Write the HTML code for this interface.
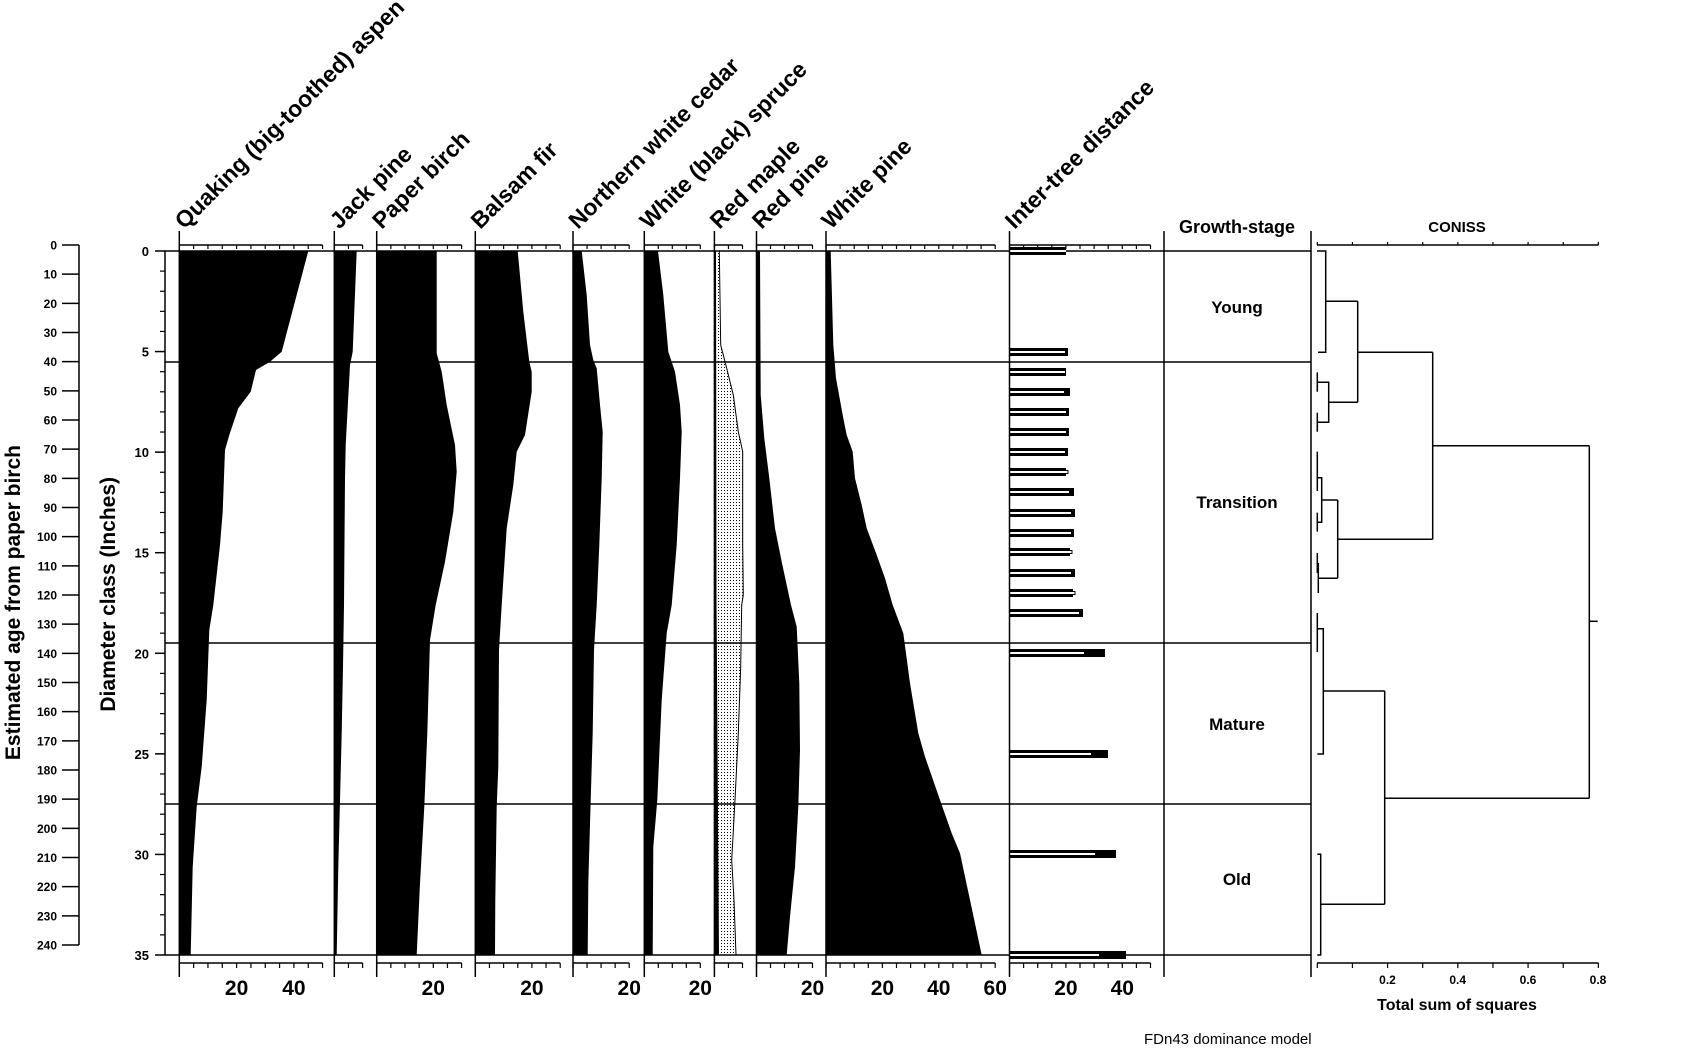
<!DOCTYPE html>
<html><head><meta charset="utf-8"><style>
html,body{margin:0;padding:0;background:#fff;}
svg{display:block;font-family:"Liberation Sans",Arial,sans-serif;}
</style></head><body>
<svg width="1681" height="1051" viewBox="0 0 1681 1051" xmlns="http://www.w3.org/2000/svg">
<defs>
<pattern id="dots" width="3" height="3" patternUnits="userSpaceOnUse">
<rect x="1" y="1" width="1" height="1" fill="#000"/>
</pattern>
</defs>
<rect width="1681" height="1051" fill="#fff"/>

<g stroke="#000" stroke-width="1.5">
<line x1="165" y1="251" x2="1311" y2="251"/>
<line x1="165" y1="362" x2="1311" y2="362"/>
<line x1="165" y1="643" x2="1311" y2="643"/>
<line x1="165" y1="804" x2="1311" y2="804"/>
<line x1="165" y1="955" x2="1311" y2="955"/>
</g>

<g fill="#000">
<polygon points="179.3,251 308.3,251 281.7,351.7 270,361.7 256,370 250.7,391.7 238.3,408.3 229.3,435 225,450 222.7,511.7 220,545 213.3,605 209.3,630 206.7,700 201.7,766.7 196.7,806.7 192.7,866.7 190.7,955 179.3,955"/>
<polygon points="334.3,251 356.7,251 352.7,351.7 350,365 345.7,445 345,478.3 344,605 343,666.7 341.7,733.3 340,800 338.3,866.7 336.7,955 334.3,955"/>
<polygon points="376.7,251 436.7,251 436.7,353.3 441.7,371.7 446.7,405 455,445 456.7,471.7 453.3,511.7 445,561.7 435.7,605 430,640 427.3,733.3 424.3,806.7 420,883.3 416.7,955 376.7,955"/>
<polygon points="475.3,251 517.7,251 523.3,311.7 529.3,361.7 531.7,371.7 531.7,391.7 525,435 516.7,451.7 513.3,485 506.7,528.3 501.7,605 499,650 498.3,766.7 496.7,806.7 495.3,900 495,955 475.3,955"/>
<polygon points="572.7,251 581.7,251 586.7,295 590,345 593.3,360 596.7,368.3 600,405 602.7,431.7 601.7,478.3 599.3,545 596.7,605 594,650 592.7,733.3 590.7,800 588.3,883.3 587.7,955 572.7,955"/>
<polygon points="644,251 658,251 663.3,295 668.3,351.7 675,371.7 680,405 681.7,431.7 680,478.3 676.7,545 671.7,605 666.7,633.3 661.7,700 657.3,800 653.3,846.7 652.7,955 644,955"/>
<polygon points="714.3,251 716,251 716.5,600 719,955 714.3,955"/>
<polygon points="756,251 760,251 760.7,395 764.3,438.3 769.3,478.3 775,528.3 781.7,561.7 791,605 796.7,626.7 799.3,683.3 800,750 798.3,806.7 795,866.7 790,916.7 786.7,955 756,955"/>
<polygon points="826,251 830.7,251 833.3,345 836,378.3 843.3,418.3 846.7,435 852.7,451.7 855,478.3 861.7,505 866.7,528.3 876.7,555 885,578.3 892.7,605 903.3,633.3 910,683.3 918.3,733.3 925,756.7 940,800 951.7,833.3 960,853.3 970,900 981.7,955 826,955"/>
</g>
<polygon points="716,251 719.3,251 720.7,345 726.7,368.3 733.3,395 738.3,431.7 742.7,451.7 742.7,545 743.3,595 741.7,605 740.7,666.7 738.3,733.3 735,800 731.7,860 734,900 736,955 719,955 716.5,600" fill="url(#dots)"/>
<polyline points="719.3,251 720.7,345 726.7,368.3 733.3,395 738.3,431.7 742.7,451.7 742.7,545 743.3,595 741.7,605 740.7,666.7 738.3,733.3 735,800 731.7,860 734,900 736,955" fill="none" stroke="#000" stroke-width="1"/>

<g id="bars"></g>
<g id="axes" stroke="#000" stroke-width="1.5" fill="none"></g>
<g id="labels" font-size="21" font-weight="bold" text-anchor="middle" fill="#000"></g>
<g id="titles" font-size="23" font-weight="bold" fill="#000"></g>

<g stroke="#000" stroke-width="1.5">
<line x1="1164" y1="231" x2="1164" y2="977"/>
<line x1="1311" y1="231" x2="1311" y2="977"/>
</g>
<g font-weight="bold" text-anchor="middle" fill="#000">
<text x="1237" y="233" font-size="18">Growth-stage</text>
<text x="1237" y="313" font-size="17">Young</text>
<text x="1237" y="508" font-size="17">Transition</text>
<text x="1237" y="730" font-size="17">Mature</text>
<text x="1237" y="885" font-size="17">Old</text>
<text x="1457" y="232" font-size="15">CONISS</text>
<text x="1457" y="1010" font-size="16">Total sum of squares</text>
</g>
<text x="1144" y="1044" font-size="15" fill="#000">FDn43 dominance model</text>

<g stroke="#000" stroke-width="1.5" fill="none">
<polyline points="1317,251 1325.7,251 1325.7,352.3 1318,352.3"/>
<line x1="1325.7" y1="301.3" x2="1357.7" y2="301.3"/>
<line x1="1317.3" y1="372.3" x2="1317.3" y2="391.7"/>
<line x1="1317.3" y1="412.7" x2="1317.3" y2="431.7"/>
<polyline points="1317.3,382.3 1328.7,382.3 1328.7,422.3 1317.3,422.3"/>
<line x1="1328.7" y1="402.3" x2="1357.7" y2="402.3"/>
<line x1="1357.7" y1="301.3" x2="1357.7" y2="402.3"/>
<line x1="1357.7" y1="352.3" x2="1432.7" y2="352.3"/>
<line x1="1317.3" y1="451.7" x2="1317.3" y2="491"/>
<line x1="1317.3" y1="512.7" x2="1317.3" y2="531.7"/>
<polyline points="1317.3,477.7 1321.7,477.7 1321.7,522.3 1317.3,522.3"/>
<line x1="1321.7" y1="500" x2="1337.7" y2="500"/>
<line x1="1317.3" y1="553" x2="1317.3" y2="573"/>
<line x1="1318.3" y1="563" x2="1318.3" y2="593"/>
<line x1="1318.3" y1="578.3" x2="1337.7" y2="578.3"/>
<line x1="1337.7" y1="500" x2="1337.7" y2="578.3"/>
<line x1="1337.7" y1="539.3" x2="1432.7" y2="539.3"/>
<line x1="1432.7" y1="352.3" x2="1432.7" y2="539.3"/>
<line x1="1432.7" y1="445.7" x2="1589.3" y2="445.7"/>
<line x1="1317.3" y1="613" x2="1317.3" y2="652"/>
<polyline points="1318,628.7 1323.3,628.7 1323.3,754 1317.3,754"/>
<line x1="1323.3" y1="691" x2="1384.7" y2="691"/>
<polyline points="1317.3,854.3 1320.7,854.3 1320.7,955 1317.3,955"/>
<line x1="1320.7" y1="904.3" x2="1384.7" y2="904.3"/>
<line x1="1384.7" y1="691" x2="1384.7" y2="904.3"/>
<line x1="1384.7" y1="798.3" x2="1589.3" y2="798.3"/>
<line x1="1589.3" y1="445.7" x2="1589.3" y2="798.3"/>
<line x1="1589.3" y1="621.3" x2="1597.7" y2="621.3"/>
<line x1="1317" y1="245" x2="1598.5" y2="245"/>
<line x1="1317" y1="963" x2="1598.5" y2="963"/>
</g>
<g id="coniss" stroke="#000" stroke-width="1.5"></g>
<g font-size="12" font-weight="bold" text-anchor="middle" fill="#000">
<text x="1387.5" y="984">0.2</text>
<text x="1457.7" y="984">0.4</text>
<text x="1528" y="984">0.6</text>
<text x="1598" y="984">0.8</text>
</g>

<g stroke="#000" stroke-width="1.5" id="leftaxes">
<line x1="79" y1="245" x2="79" y2="945"/>
<line x1="165" y1="251" x2="165" y2="955"/>
</g>
<g id="agelab" font-size="12" font-weight="bold" text-anchor="end" fill="#000"></g>
<g id="diamlab" font-size="13" font-weight="bold" text-anchor="end" fill="#000"></g>
<text transform="translate(20,445) rotate(-90)" text-anchor="end" font-size="21" font-weight="bold" fill="#000">Estimated age from paper birch</text>
<text transform="translate(115,477) rotate(-90)" text-anchor="end" font-size="21" font-weight="bold" fill="#000">Diameter class (Inches)</text>

<script>
(function(){
var NS="http://www.w3.org/2000/svg";
function el(parent,tag,attrs,txt){var e=document.createElementNS(NS,tag);for(var k in attrs)e.setAttribute(k,attrs[k]);if(txt!=null)e.textContent=txt;parent.appendChild(e);return e;}
var axes=document.getElementById('axes'),labels=document.getElementById('labels'),titles=document.getElementById('titles');
var panels=[
 [179.3,2.865,50,[20,40],'Quaking (big-toothed) aspen'],
 [334.3,2.83,10,[],'Jack pine'],
 [376.7,2.83,30,[20],'Paper birch'],
 [475.3,2.83,30,[20],'Balsam fir'],
 [573,2.81,20,[20],'Northern white cedar'],
 [644.3,2.8,20,[20],'White (black) spruce'],
 [714.4,2.81,10,[],'Red maple'],
 [756.5,2.8,20,[20],'Red pine'],
 [826,2.82,60,[20,40,60],'White pine'],
 [1009.5,2.82,50,[20,40],'Inter-tree distance']
];
panels.forEach(function(p){
 var L=p[0],s=p[1],m=p[2],R=L+s*m;
 el(axes,'line',{x1:L,y1:231,x2:L,y2:977});
 el(axes,'line',{x1:L,y1:245,x2:R,y2:245});
 el(axes,'line',{x1:L,y1:963,x2:R,y2:963});
 for(var v=0;v<=m+0.01;v+=5){var x=L+v*s;
  el(axes,'line',{x1:x,y1:245,x2:x,y2:249,'stroke-width':1.2});
  el(axes,'line',{x1:x,y1:963,x2:x,y2:968,'stroke-width':1.2});}
 p[3].forEach(function(v){el(labels,'text',{x:L+v*s,y:995},String(v));});
 el(titles,'text',{transform:'translate('+(L+5)+',230) rotate(-45)'},p[4]);
});
var c=document.getElementById('coniss');
for(var i=0;i<=8;i++){var x=1317.3+i*35.13;el(c,'line',{x1:x,y1:242,x2:x,y2:245,'stroke-width':1.2});el(c,'line',{x1:x,y1:963,x2:x,y2:968,'stroke-width':1.2});}
var la=document.getElementById('leftaxes'),ag=document.getElementById('agelab'),dl=document.getElementById('diamlab');
for(var a=0;a<=240;a+=10){var y=245+a*2.9167;el(la,'line',{x1:62,y1:y,x2:79,y2:y});el(ag,'text',{x:57,y:y+4.5},String(a));}
for(var d=0;d<=35;d++){var y=251+d*20.114;if(d%5==0){el(la,'line',{x1:155,y1:y,x2:165,y2:y});el(dl,'text',{x:149,y:y+5},String(d));}else{el(la,'line',{x1:160,y1:y,x2:165,y2:y,'stroke-width':1.2});}}
var bars=[[251,1066,1066],[352,1068,1065],[372,1066,1065],[392,1070,1064],[412,1069,1066],[432,1069,1066],[452,1068,1065],[472,1066,1068],[492,1074,1069],[513,1075,1071],[533,1074,1071],[552,1070,1072],[573,1075,1071],[593,1073,1075],[613,1083,1079],[653,1105,1084],[754,1108,1091],[854,1116,1095],[955,1126,1099]];
var b=document.getElementById('bars');
bars.forEach(function(r){var y=r[0],A=r[1],B=r[2],x0=1009.5;
 el(b,'rect',{x:x0,y:y-4,width:A-x0,height:8,fill:'#000'});
 if(B>A){el(b,'rect',{x:x0,y:y-1.5,width:B-x0,height:3,fill:'#fff',stroke:'#000','stroke-width':1});
   el(b,'rect',{x:x0,y:y-4,width:A-x0,height:2.5,fill:'#000'});el(b,'rect',{x:x0,y:y+1.5,width:A-x0,height:2.5,fill:'#000'});}
 else el(b,'rect',{x:x0,y:y-1,width:B-x0,height:2,fill:'#fff'});
});
})();
</script>
</svg>
</body></html>
